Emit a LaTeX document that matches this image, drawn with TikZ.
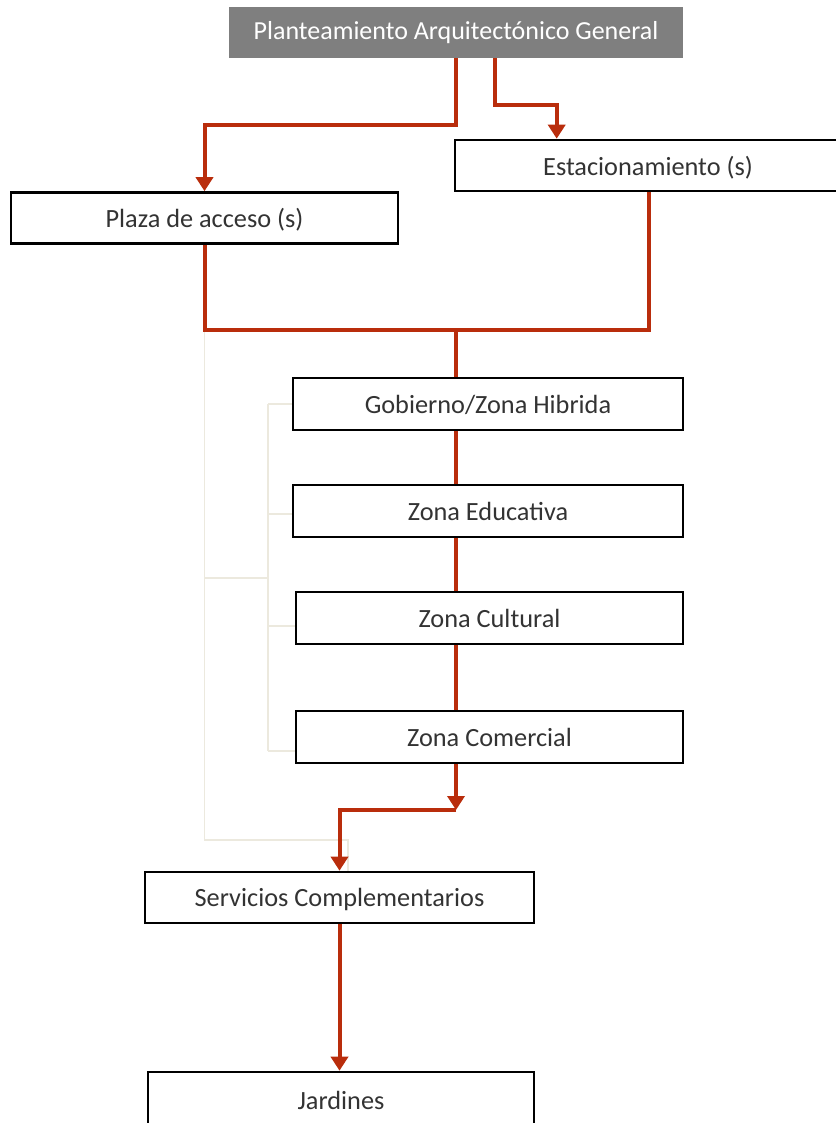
\documentclass[tikz,border=0pt]{standalone}
\usepackage{fontspec}
\setmainfont{Carlito}
\usetikzlibrary{arrows.meta}
\definecolor{linered}{RGB}{185,45,12}
\definecolor{titlegray}{RGB}{127,127,127}
\definecolor{beige}{RGB}{236,233,222}
\begin{document}
\begin{tikzpicture}[x=1pt,y=-1pt,
  boxstyle/.style={draw=black,line width=2.6pt,fill=white,minimum height=51pt,inner sep=0pt,text depth=0pt,font=\fontsize{26.3}{30}\selectfont,text=black!80},
  titlestyle/.style={fill=titlegray,draw=none,minimum height=51pt,minimum width=454pt,inner sep=0pt,font=\fontsize{26}{30}\selectfont,text=white},
  redline/.style={draw=linered,line width=4pt},
  redarrow/.style={redline,-{Triangle[width=17pt,length=14pt]}},
  beigeline/.style={draw=beige,line width=1.5pt}]
\useasboundingbox (0,0) rectangle (835,1123);

% beige background connectors
\coordinate (b1) at (204.5,330);
\coordinate (b2) at (204.5,840);
\coordinate (b3) at (348,840);
\coordinate (b4) at (348,872);
\coordinate (c1) at (204.5,578);
\coordinate (c2) at (268,578);
\coordinate (d1) at (268,404);
\coordinate (d2) at (268,751);
\draw[beigeline] (b1) -- (b2) -- (b3) -- (b4);
\draw[beigeline] (c1) -- (c2);
\draw[beigeline] (d1) -- (d2);
\draw[beigeline] (d1) -- (293,404);
\draw[beigeline] (268,514) -- (293,514);
\draw[beigeline] (268,626) -- (296,626);
\draw[beigeline] (d2) -- (296,751);

% nodes
\node[titlestyle] (title) at (456,32.5) {Planteamiento Arquitectónico General};
\node[boxstyle,minimum width=386pt] (estac) at (648,165.5) {Estacionamiento (s)};
\node[boxstyle,minimum width=387pt] (plaza) at (204.5,218) {Plaza de acceso (s)};
\node[boxstyle,minimum width=390pt,minimum height=52pt] (gob) at (488,404) {Gobierno/Zona Hibrida};
\node[boxstyle,minimum width=390pt,minimum height=52pt] (edu) at (488,511) {Zona Educativa};
\node[boxstyle,minimum width=387pt,minimum height=52pt] (cult) at (489.5,618) {Zona Cultural};
\node[boxstyle,minimum width=387pt,minimum height=52pt] (com) at (489.5,737) {Zona Comercial};
\node[boxstyle,minimum width=389pt] (serv) at (339.5,897.5) {Servicios Complementarios};
\node[boxstyle,minimum width=386pt,minimum height=56pt] (jard) at (341,1100) {Jardines};

% red connectors
\draw[redarrow] (title.south) -- ++(0,67) -| (plaza.north);
\draw[redarrow] ([xshift=39pt]title.south) -- ++(0,47) -| ([xshift=103pt]estac.north west);
\coordinate (m) at (title.south |- 0,330);
\draw[redline] (plaza.south) |- (m);
\draw[redline] ([xshift=195pt]estac.south west) |- (m);
\draw[redline] (m) -- (gob.north -| m);
\draw[redline] (gob.south -| m) -- (edu.north -| m);
\draw[redline] (edu.south -| m) -- (cult.north -| m);
\draw[redline] (cult.south -| m) -- (com.north -| m);
\coordinate (k) at (m |- 0,810);
\draw[redarrow] (com.south -| m) -- (k);
\draw[redarrow] (k) -| (serv.north);
\draw[redarrow] (serv.south) -- (jard.north -| serv.south);
\end{tikzpicture}
\end{document}
